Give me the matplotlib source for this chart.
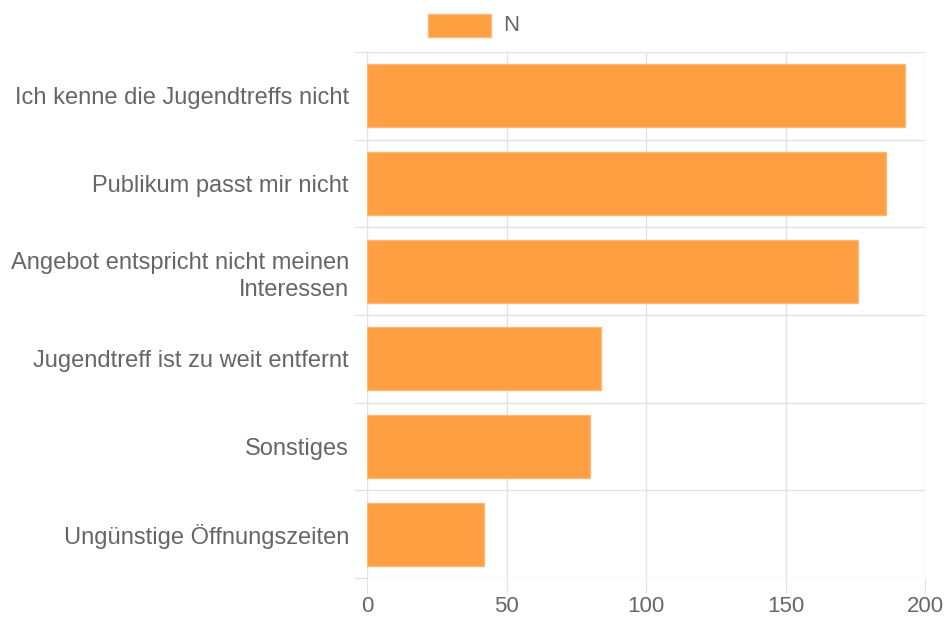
import matplotlib.pyplot as plt
from matplotlib.patches import Rectangle

categories = ['Ich kenne die Jugendtreffs nicht',
              'Publikum passt mir nicht',
              'Angebot entspricht nicht meinen\nInteressen',
              'Jugendtreff ist zu weit entfernt',
              'Sonstiges',
              'Ungünstige Öffnungszeiten']
values = [193, 186, 176, 84, 80, 42]
xticks = [0, 50, 100, 150, 200]
series_name = 'N'

fill = '#FE9F42'
edge = '#FFB878'
grid = '#E2E2E2'
txt = '#666666'

fig = plt.figure(figsize=(9.47, 6.19), dpi=100)
W, H = 947, 619
ax = fig.add_axes([367 / W, 1 - 578 / H, (925 - 367) / W, (578 - 52) / H])

pos = list(range(len(categories)))
ax.barh(pos, values, height=0.72, color=fill, edgecolor=edge, linewidth=1, zorder=3)
ax.set_ylim(len(categories) - 0.5, -0.5)
ax.set_xlim(0, 200)

ax.set_xticks(xticks)
ax.set_yticks(pos)
ax.set_yticklabels(categories, fontsize=17, color=txt, linespacing=1.3,
                   family='Liberation Sans')
ax.set_xticklabels([str(t) for t in xticks], fontsize=16, color=txt,
                   family='Liberation Sans')

# grid lines between categories
for b in [p + 0.5 for p in range(-1, len(categories))]:
    ax.axhline(b, color=grid, linewidth=1, zorder=1)
for t in xticks:
    ax.axvline(t, color=grid, linewidth=1, zorder=1)

for s in ax.spines.values():
    s.set_visible(False)
ax.tick_params(axis='y', length=0, pad=13)
ax.tick_params(axis='x', length=11, color=grid, pad=2)

# tick stubs left of the axis at row boundaries
for b in [p + 0.5 for p in range(-1, len(categories))]:
    ax.plot([-4.3, 0], [b, b], color=grid, linewidth=1, clip_on=False, zorder=1)

# legend
fig.patches.append(Rectangle((428 / W, 1 - 37 / H), 63 / W, 23 / H,
                             transform=fig.transFigure, facecolor=fill,
                             edgecolor=edge, linewidth=1))
fig.text(503 / W, 1 - 25.5 / H, series_name, fontsize=16, color=txt,
         va='center', ha='left', family='Liberation Sans')

fig.savefig('out.png', dpi=100)
